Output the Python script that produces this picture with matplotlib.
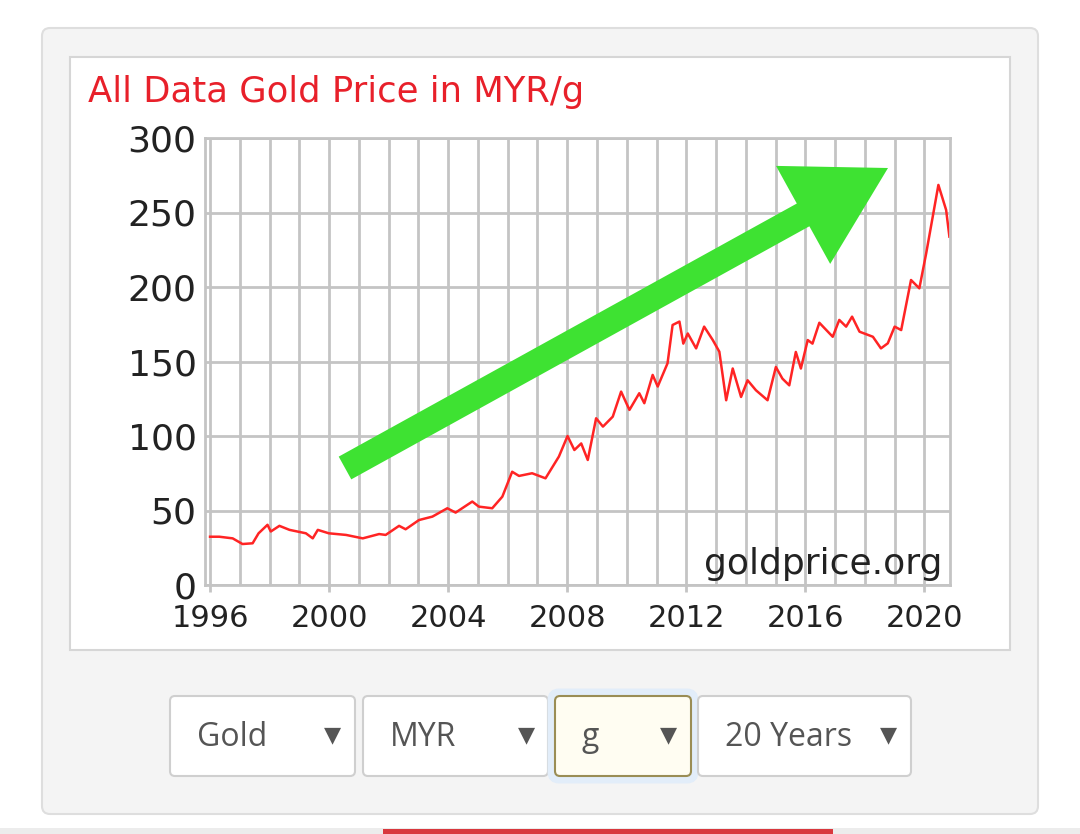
import matplotlib.pyplot as plt
from matplotlib.patches import FancyBboxPatch, Rectangle, Polygon
import numpy as np

# gold price in MYR per gram
years = [1996.0, 1996.31, 1996.76, 1997.09, 1997.43, 1997.63, 1997.93, 1998.04, 1998.33, 1998.67,
         1999.22, 1999.45, 1999.62, 1999.99, 2000.57, 2001.13, 2001.68, 2001.9, 2002.35, 2002.57,
         2003.02, 2003.47, 2003.97, 2004.25, 2004.81, 2005.03, 2005.48, 2005.82, 2006.15, 2006.38,
         2006.82, 2007.27, 2007.72, 2008.01, 2008.24, 2008.47, 2008.69, 2008.97, 2009.2, 2009.53,
         2009.81, 2010.09, 2010.42, 2010.59, 2010.87, 2011.04, 2011.37, 2011.54, 2011.77, 2011.9,
         2012.05, 2012.33, 2012.6, 2012.89, 2013.11, 2013.34, 2013.56, 2013.84, 2014.06, 2014.34,
         2014.73, 2015.01, 2015.23, 2015.46, 2015.68, 2015.85, 2016.08, 2016.24, 2016.47, 2016.92,
         2017.14, 2017.37, 2017.57, 2017.82, 2018.27, 2018.54, 2018.77, 2019.0, 2019.22, 2019.55,
         2019.83, 2020.06, 2020.28, 2020.47, 2020.73, 2020.84]
prices = [32.4, 32.4, 31.3, 27.5, 28, 34.7, 40.4, 35.9, 39.7, 37,
          34.7, 31.3, 37, 34.7, 33.6, 31.3, 34.2, 33.6, 39.7, 37.4,
          43.6, 45.9, 51.5, 48.6, 56, 52.6, 51.5, 59.3, 76, 73.2,
          75, 71.6, 86.2, 100, 90.6, 95, 83.9, 111.9, 106.3, 113,
          129.8, 117.5, 128.7, 122, 141, 133.2, 148.8, 174.5, 176.8, 162,
          168.8, 158.8, 173.4, 164.4, 156.6, 124, 145.3, 126.2, 137.4, 130.7,
          124, 146.3, 138.5, 134, 156.4, 145.3, 164.4, 162, 176, 166.6,
          177.9, 173.4, 180.1, 170, 166.6, 158.8, 162.2, 173.4, 171.1, 204.7,
          199.1, 222.6, 247.2, 268.5, 251.7, 233.8]
yticks = [0, 50, 100, 150, 200, 250, 300]
xticks = [1996, 2000, 2004, 2008, 2012, 2016, 2020]
menus = ['Gold', 'MYR', 'g', '20 Years']

W, H = 1080, 834
fig = plt.figure(figsize=(W / 100, H / 100), dpi=100)
fig.patch.set_facecolor('white')

# background layer in pixel coordinates
bg = fig.add_axes([0, 0, 1, 1], zorder=0)
bg.set_xlim(0, W)
bg.set_ylim(H, 0)
bg.axis('off')
bg.add_patch(FancyBboxPatch((42, 28), 996, 786, boxstyle='round,pad=0,rounding_size=8',
                            fc='#f4f4f4', ec='#dedede', lw=1.5))
bg.add_patch(Rectangle((70, 57), 940, 593, fc='white', ec='#d6d6d6', lw=1.5))
bg.text(88, 92, 'All Data Gold Price in MYR/g', color='#e8202a', fontsize=25.5,
        va='center', ha='left')

# dropdowns
boxes = [(170, 185), (363, 185), (555, 136), (698, 213)]
for (x0, w), label in zip(boxes, menus):
    if label == 'g':
        bg.add_patch(FancyBboxPatch((x0 - 4, 692), w + 8, 88, boxstyle='round,pad=0,rounding_size=8',
                                    fc='none', ec='#e2edf9', lw=5))
        fc, ec = '#fffdf2', '#9a8d55'
    else:
        fc, ec = 'white', '#cfcfcf'
    bg.add_patch(FancyBboxPatch((x0, 696), w, 80, boxstyle='round,pad=0,rounding_size=5',
                                fc=fc, ec=ec, lw=1.5))
    t = bg.text(x0 + 27, 738, label, fontsize=23, color='#555555', family='Open Sans',
                va='center', ha='left')
    if label == '20 Years':
        t.set_clip_path(Rectangle((x0, 696), 150, 80, transform=bg.transData))
    bg.text(x0 + w - 22, 735, '▼', fontsize=16, color='#555555', va='center', ha='center')

# bottom strip
bg.add_patch(Rectangle((0, 828), W, 6, fc='#ececec', ec='none'))
bg.add_patch(Rectangle((383, 829), 450, 5, fc='#d9383e', ec='none'))

# chart
ax = fig.add_axes([205 / W, 1 - 585 / H, 745 / W, 447 / H], zorder=1)
ax.plot(years, prices, color='#ff2424', lw=1.8)
ax.set_xlim(1995.83, 2020.86)
ax.set_ylim(0, 300)
ax.set_xticks(np.arange(1996, 2021), minor=True)
ax.set_xticks(xticks)
ax.set_yticks(yticks)
ax.grid(True, which='both', color='#c4c4c4', lw=2)
ax.set_axisbelow(True)
ax.tick_params(axis='x', which='minor', length=0)
ax.tick_params(axis='x', which='major', length=5, width=2, color='#c4c4c4',
               labelsize=22, labelcolor='#222222', pad=9)
ax.tick_params(axis='y', length=0, labelsize=26, labelcolor='#222222', pad=6)
for s in ax.spines.values():
    s.set_color('#c4c4c4')
    s.set_linewidth(2)
ax.text(0.99, 0.01, 'goldprice.org', transform=ax.transAxes, ha='right', va='bottom',
        fontsize=26, color='#222222')

# green arrow overlay
ov = fig.add_axes([0, 0, 1, 1], zorder=2)
ov.set_xlim(0, W)
ov.set_ylim(H, 0)
ov.axis('off')
ov.patch.set_alpha(0)
tip = np.array([888.0, 168.0])
start = np.array([345.0, 468.0])
d = (tip - start) / np.linalg.norm(tip - start)
n = np.array([-d[1], d[0]])
base = tip - d * 97
sw, hw = 13, 56
pts = [start + n * sw, base + n * sw, base + n * hw, tip, base - n * hw, base - n * sw, start - n * sw]
ov.add_patch(Polygon(pts, closed=True, fc='#3ee232', ec='none'))

fig.savefig('out.png', dpi=100)
